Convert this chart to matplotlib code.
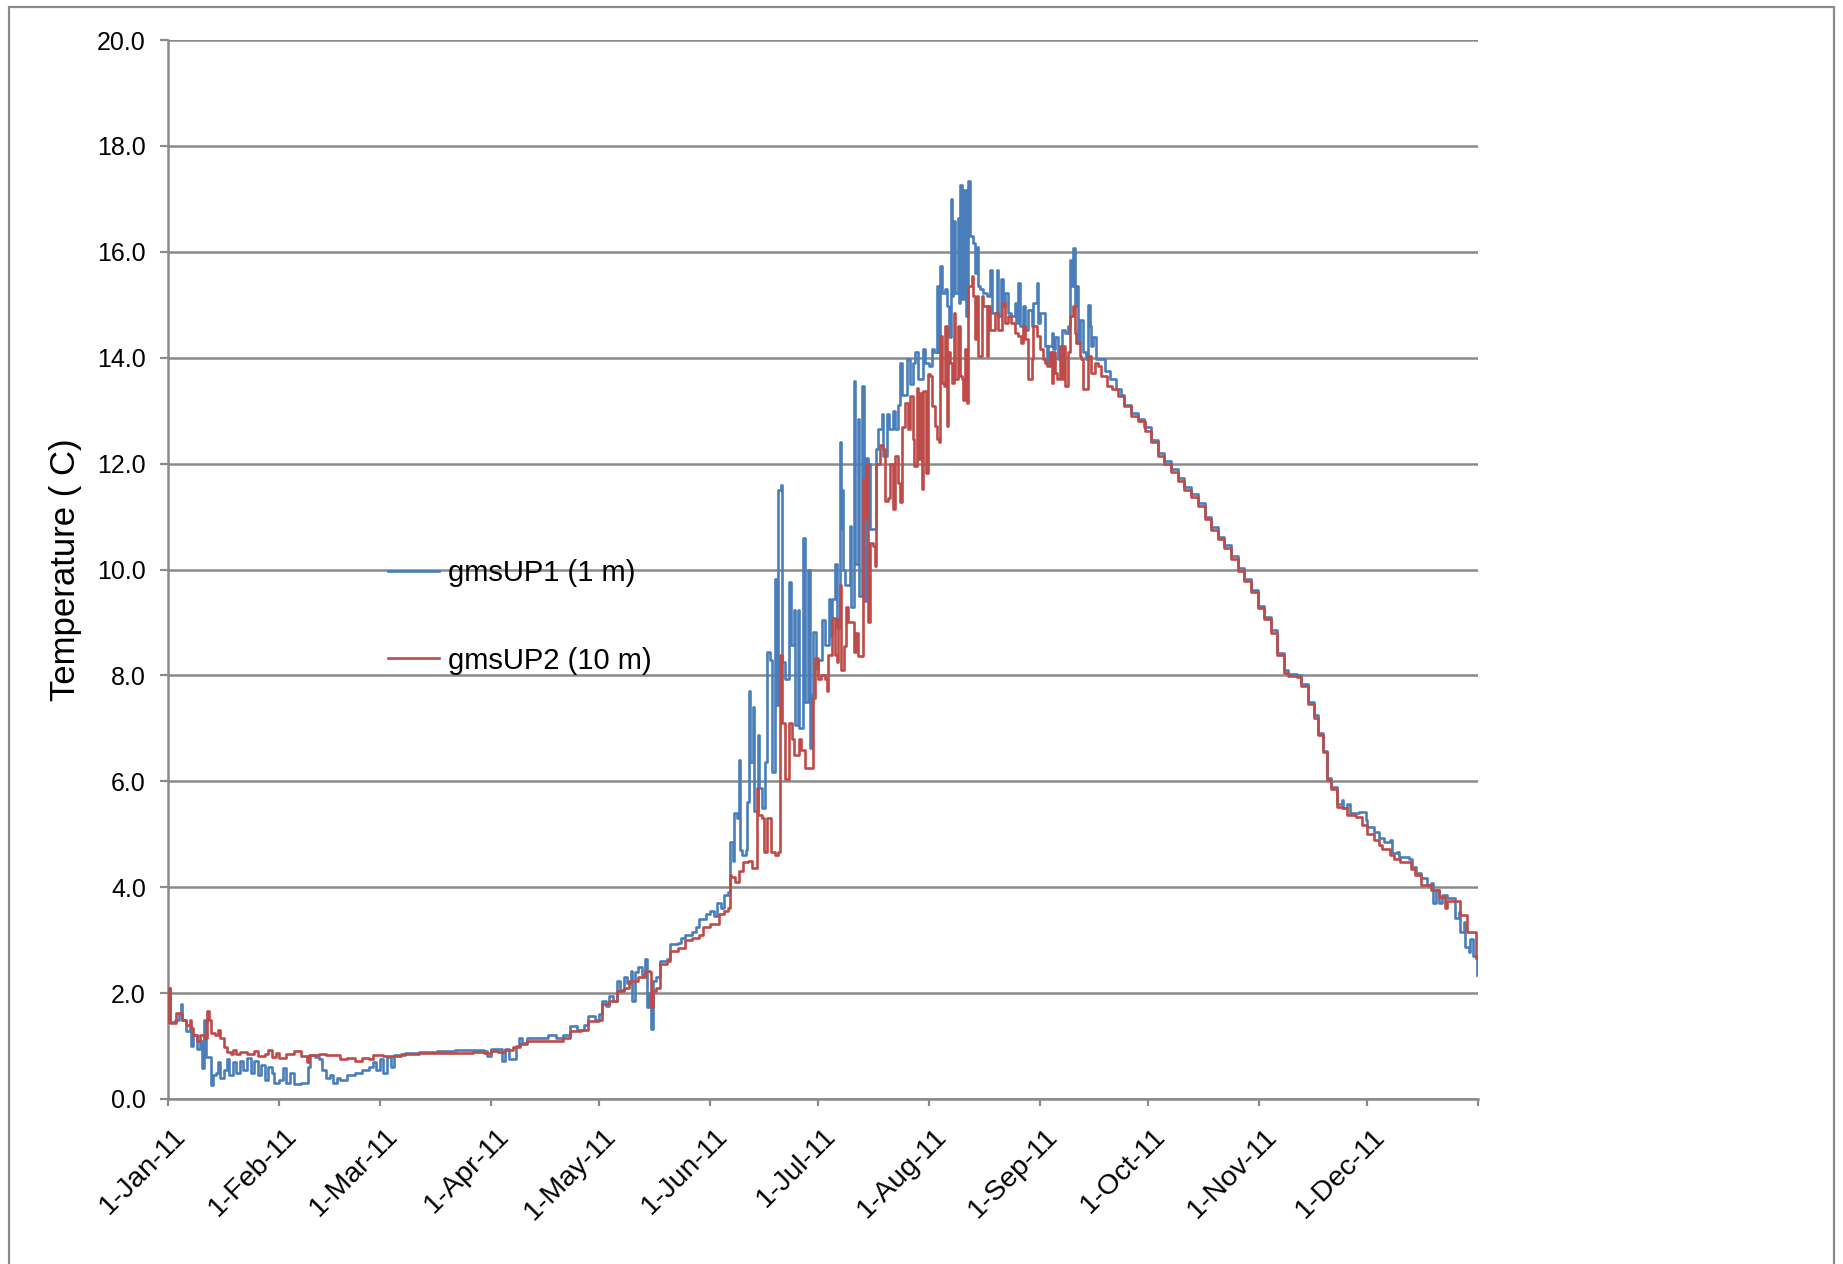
import matplotlib
matplotlib.use("Agg")
import matplotlib.pyplot as plt
from matplotlib.patches import Rectangle
from matplotlib.transforms import ScaledTranslation

# day of year (0 = 1-Jan-11), temperature in C
up1_winter = [
    (0, 1.5), (0.3, 2.1), (0.6, 1.45), (2, 1.5), (3, 1.6), (3.5, 1.8), (4, 1.5), (5, 1.28),
    (6, 1.4), (6.5, 1.0), (7, 1.2), (8, 0.95), (9, 1.1), (9.5, 0.58), (10, 1.5), (10.5, 0.8),
    (11.9, 0.27), (12.5, 0.45), (13.5, 0.5), (14, 0.7), (14.5, 0.4), (15.5, 0.55), (16.5, 0.75),
    (17, 0.45), (18, 0.7), (19, 0.5), (20, 0.72), (21, 0.55), (22, 0.77), (23, 0.5), (24, 0.72),
    (25, 0.45), (26, 0.65), (27, 0.35), (28, 0.6), (29, 0.5), (29.5, 0.3), (31, 0.35), (32, 0.58),
    (33, 0.3), (34, 0.5), (35, 0.28), (37, 0.3), (38.5, 0.3), (39, 0.6), (39.5, 0.84), (41, 0.8),
    (42, 0.75), (43, 0.55), (44, 0.4), (45, 0.45), (46, 0.3), (47, 0.4), (48, 0.35), (50, 0.45),
    (52, 0.5), (54, 0.55), (56, 0.6), (57, 0.7), (58, 0.55), (59, 0.75), (60, 0.5), (61, 0.8),
    (62, 0.6), (63, 0.84), (66, 0.87), (70, 0.88), (75, 0.9), (80, 0.92), (85, 0.92),
]
up1_spring = [
    (88, 0.9), (89, 0.82), (90, 0.95), (93, 0.72), (94, 0.95), (95, 0.75), (97, 1.0), (97.9, 1.16),
    (98.5, 1.05), (100, 1.16), (104, 1.15), (106, 1.2), (108, 1.16), (110, 1.2), (112, 1.38),
    (114, 1.3), (116, 1.4), (117, 1.57), (119, 1.5), (120, 1.6), (121, 1.85), (122, 1.75),
    (123, 1.95), (124, 1.85), (125, 2.23), (126, 2.05), (127, 2.3), (128, 2.2), (129, 2.42),
    (129.4, 1.85), (130, 2.4), (131, 2.5), (132, 2.35), (133, 2.64), (133.5, 1.73), (134, 2.0),
    (134.5, 1.32), (135, 2.23), (136, 2.3), (137, 2.6), (139, 2.65), (140, 2.92), (142, 2.95),
    (143, 3.05), (144, 3.1), (146, 3.15), (147, 3.25), (148, 3.4), (150, 3.5), (151, 3.55),
    (152, 3.45), (153, 3.7), (154, 3.6), (155, 3.85), (156, 3.9),
]
up1_summer = [
    (156.5, 4.2), (156.7, 4.86), (157.3, 4.5), (157.6, 5.4), (158.5, 5.3), (159, 6.4), (159.3, 4.7),
    (160, 4.6), (161, 4.7), (161.3, 5.6), (161.8, 7.7), (162.2, 6.37), (162.9, 7.4), (163.3, 5.43),
    (164.3, 6.87), (164.8, 5.87), (165.5, 5.5), (166.4, 6.37), (166.9, 8.45), (167.8, 8.3),
    (168.2, 6.18), (169.2, 9.83), (169.5, 7.44), (170, 11.5), (170.8, 11.6), (171, 8.26),
    (172, 7.94), (173, 9.77), (173.5, 8.57), (174.3, 9.23), (174.7, 7.06), (175.5, 9.23),
    (175.9, 7.0), (177, 10.6), (177.4, 7.5), (178.3, 9.99), (178.8, 6.62), (179.4, 7.63),
    (179.8, 8.82), (180.5, 8.13), (181.2, 8.3), (182.1, 9.04), (183, 8.57), (184.3, 9.45),
    (184.5, 8.75), (185, 9.44), (185.9, 10.1), (186.5, 8.9), (187.2, 12.4), (187.5, 10.77),
    (187.7, 11.5), (188, 10.0), (188.5, 9.7), (190, 10.83), (190.4, 9.3), (191, 13.56),
    (191.5, 10.1), (192.2, 12.84), (192.6, 9.5), (193.3, 13.46), (193.8, 9.4), (194.5, 12.1),
    (195.1, 12.0), (195.6, 10.76), (197, 10.76), (197.4, 12.27), (197.9, 12.65), (198.8, 12.93),
    (199.3, 12.15), (200.2, 12.93), (201, 12.65), (202, 13.0), (202.5, 12.65), (203.5, 13.1),
    (204, 13.9), (204.5, 13.3), (205.3, 13.3), (206, 13.97), (206.7, 13.5), (207.6, 13.9),
    (208, 14.1), (209, 13.6), (210.3, 14.16), (210.8, 13.9), (211.9, 13.84), (212.8, 14.16),
    (213.5, 14.1), (214.2, 15.35), (214.6, 14.1), (215.2, 15.73), (215.6, 15.22), (216.5, 15.29),
    (217, 14.97), (217.5, 14.4), (218.1, 17.0), (218.4, 15.16), (218.8, 16.58), (219.3, 15.22),
    (220, 16.64), (220.3, 15.03), (220.7, 17.27), (221.2, 15.1), (221.9, 17.17), (222.4, 14.78),
    (223, 17.33), (223.5, 16.3), (224.4, 16.17), (224.9, 15.6), (225.3, 16.1), (225.6, 15.35),
    (226.2, 15.29), (227.1, 15.22), (228.1, 15.16), (229, 15.66), (229.5, 14.85), (230.9, 15.66),
    (231.3, 14.78), (232.1, 15.48), (232.7, 14.97), (233.2, 15.22), (234.1, 14.85), (235, 14.78),
    (236, 15.03), (236.4, 14.66), (236.9, 15.41), (237.4, 14.6), (238.3, 14.97), (238.8, 14.53),
    (239.7, 14.9), (240.6, 14.6), (241, 15.03), (242, 15.41), (242.5, 14.66), (242.9, 14.85),
    (243.9, 14.85), (244.3, 14.22), (244.8, 13.9), (245.2, 14.22), (246.2, 14.47), (246.6, 14.16),
    (247.1, 14.4), (248, 13.97), (249, 14.53), (249.9, 14.47), (250.8, 14.6), (251.3, 15.85),
    (251.7, 15.35), (252.2, 16.07), (252.7, 14.97), (253.1, 15.35), (253.6, 14.28), (254.1, 14.72),
    (255, 14.1), (255.9, 13.97), (256.2, 15.0), (256.8, 14.6), (257.3, 14.22), (257.8, 14.4),
    (258.7, 13.97),
]
up1_autumn = [
    (259.6, 13.97), (261, 13.75), (262.4, 13.6), (264, 13.4), (265.5, 13.3), (266.5, 13.1),
    (268.4, 12.95), (270.2, 12.85), (272, 12.7), (273.9, 12.45), (275.8, 12.2), (277.6, 12.05),
    (279.5, 11.9), (281.3, 11.72), (283.2, 11.56), (285, 11.42), (286.9, 11.26), (288.8, 11.0),
    (290.6, 10.8), (292.5, 10.62), (294.3, 10.46), (296.2, 10.25), (298, 10.02), (299.9, 9.82),
    (301.7, 9.62), (303.6, 9.32), (305.4, 9.1), (307.3, 8.86), (309.1, 8.43), (311, 8.1),
    (312, 8.02), (314.7, 8.0), (315.6, 7.84), (317.5, 7.5), (319.3, 7.25), (320.3, 6.92),
    (321.7, 6.58), (323, 6.07), (324, 5.9), (325.8, 5.58), (327, 5.65), (327.5, 5.5),
    (328.6, 5.58), (329.2, 5.4), (331.8, 5.42), (333.7, 5.27), (334.2, 5.14), (336, 5.05),
    (337.5, 4.92), (338.8, 4.86), (340.6, 4.89), (341.1, 4.64), (342.5, 4.67), (343, 4.57),
    (345.8, 4.54), (346.7, 4.39), (347.6, 4.26), (349, 4.17), (350.8, 4.04), (351.8, 4.07),
    (352.5, 3.7), (353.2, 3.95), (354.1, 3.7), (355, 3.85), (356.4, 3.79), (357.3, 3.79),
    (358.7, 3.41), (359.6, 3.54), (360.1, 3.16), (361, 3.35), (361.5, 2.88), (362.4, 2.78),
    (362.9, 3.03), (363.6, 2.7), (364.6, 2.34),
]

up2_winter = [
    (0, 1.45), (0.3, 2.1), (0.6, 1.44), (2, 1.44), (2.2, 1.63), (3.5, 1.6), (4, 1.5), (5, 1.4),
    (6, 1.5), (6.5, 1.35), (7, 1.2), (8, 1.1), (9, 1.2), (10, 1.15), (11, 1.66), (11.5, 1.5),
    (12, 1.25), (13, 1.2), (14, 1.3), (14.6, 1.15), (15.5, 0.98), (16.5, 0.88), (17.5, 0.85),
    (18, 0.92), (19, 0.85), (20, 0.88), (22, 0.85), (24, 0.9), (25, 0.82), (27, 0.85), (28, 0.92),
    (29, 0.8), (30, 0.87), (31, 0.78), (33, 0.85), (35, 0.9), (37, 0.82), (38.7, 0.7), (39.2, 0.84),
    (42, 0.85), (44, 0.84), (46, 0.84), (48, 0.75), (50, 0.78), (52, 0.72), (54, 0.78), (56, 0.75),
    (57, 0.84), (60, 0.82), (65, 0.85), (70, 0.86), (75, 0.87), (80, 0.87), (85, 0.88),
]
up2_spring = [
    (88, 0.87), (90, 0.9), (92, 0.88), (94, 0.92), (96, 0.98), (98, 1.04), (100, 1.1), (104, 1.1),
    (108, 1.1), (110, 1.15), (112, 1.29), (115, 1.3), (117, 1.48), (120, 1.5), (121, 1.79),
    (123, 1.85), (125, 2.04), (127, 2.1), (128.4, 2.23), (131, 2.3), (133, 2.42), (134.3, 2.4),
    (134.5, 1.73), (135, 2.04), (136, 2.1), (137, 2.55), (139, 2.6), (140, 2.8), (142, 2.85),
    (144, 3.0), (146, 3.05), (148, 3.1), (149, 3.24), (151, 3.3), (153.5, 3.5), (155, 3.55),
    (156, 3.6),
]
up2_summer = [
    (156.5, 4.23), (157, 4.2), (158, 4.1), (159, 4.3), (160.3, 4.48), (161.5, 4.5), (162.7, 4.36),
    (164, 5.87), (164.5, 5.36), (165.5, 5.3), (166, 4.67), (167, 5.3), (168, 4.67), (169, 4.6),
    (170, 4.67), (170.6, 8.38), (171, 7.1), (172, 6.05), (173, 7.1), (174, 6.8), (174.5, 6.5),
    (175.7, 6.8), (176.5, 6.6), (177.5, 6.25), (178.4, 6.25), (179.6, 7.57), (180.3, 8.32),
    (181, 7.94), (182, 8.0), (183, 7.94), (183.5, 7.7), (184, 8.38), (185, 9.08), (185.9, 8.38),
    (186.5, 8.26), (186.8, 9.07), (187.2, 9.7), (187.6, 8.1), (188.4, 8.56), (188.8, 9.3),
    (189.5, 9.0), (190.5, 9.0), (191, 8.44), (191.8, 8.8), (192.3, 8.37), (193.3, 8.37),
    (193.7, 11.7), (194.1, 11.0), (194.6, 12.0), (195, 9.0), (195.6, 10.5), (196.5, 10.45),
    (197, 10.07), (197.4, 12.0), (198.4, 12.36), (199.3, 12.27), (199.8, 11.3), (200.7, 11.35),
    (201.2, 12.0), (202, 11.14), (202.5, 12.15), (203.5, 11.64), (204, 11.27), (204.4, 12.7),
    (205.3, 13.15), (206.2, 12.65), (206.7, 13.28), (207.6, 12.46), (207.9, 11.96), (208.6, 13.43),
    (209, 12.08), (209.6, 13.34), (210, 11.52), (210.4, 13.37), (211.1, 11.83), (211.8, 13.7),
    (212.3, 13.65), (212.8, 13.09), (213.7, 12.71), (214.2, 12.46), (214.7, 12.4), (215.1, 14.41),
    (215.6, 13.53), (216.1, 13.47), (216.5, 14.6), (217, 12.71), (217.4, 14.1), (217.9, 13.9),
    (218.4, 13.53), (219, 14.85), (219.3, 13.6), (220.2, 14.6), (220.7, 13.65), (221.1, 13.6),
    (221.6, 13.21), (222.1, 14.16), (222.5, 13.15), (223, 15.35), (223.9, 15.54), (224.4, 15.16),
    (224.9, 14.35), (225.3, 15.16), (225.8, 14.03), (226.7, 15.16), (227.2, 14.97), (228.1, 14.03),
    (228.6, 14.97), (229, 14.53), (230.4, 14.85), (231.3, 14.53), (232.3, 15.03), (233.2, 14.66),
    (234.1, 14.78), (235, 14.66), (236, 14.47), (236.9, 14.41), (237.8, 14.28), (238.3, 14.6),
    (238.8, 14.35), (239.7, 13.6), (240.6, 13.97), (241, 14.6), (242, 14.41), (242.9, 14.16),
    (243.9, 13.97), (244.3, 13.9), (244.8, 13.84), (245.7, 14.1), (246.2, 13.53), (246.6, 14.1),
    (247.1, 13.72), (247.6, 13.6), (248.5, 14.22), (249, 13.6), (249.4, 14.22), (249.9, 13.47),
    (250.8, 14.1), (251.3, 14.78), (252.2, 14.97), (252.7, 14.47), (253.1, 14.28), (254.1, 14.03),
    (254.5, 13.97), (255, 13.4), (255.9, 13.4), (256.4, 14.03), (257.3, 13.72), (258.2, 13.9),
]
up2_autumn = [
    (259.1, 13.84), (260, 13.65), (261.5, 13.47), (262.9, 13.4), (264.7, 13.28), (266.5, 13.09),
    (268.4, 12.9), (270.2, 12.8), (272.1, 12.62), (273.9, 12.4), (275.8, 12.15), (277.6, 12.0),
    (279.5, 11.85), (281.3, 11.68), (283.2, 11.5), (285, 11.36), (286.9, 11.2), (288.8, 10.95),
    (290.6, 10.75), (292.5, 10.57), (294.3, 10.4), (296.2, 10.2), (298, 9.98), (299.9, 9.78),
    (301.7, 9.58), (303.6, 9.28), (305.4, 9.06), (307.3, 8.8), (309.1, 8.38), (311, 8.05),
    (312, 7.98), (314.7, 7.97), (315.6, 7.8), (317.5, 7.46), (319.3, 7.2), (320.3, 6.88),
    (321.7, 6.55), (323, 6.03), (324, 5.86), (325.8, 5.52), (327, 5.5), (328.6, 5.36),
    (331, 5.33), (332.8, 5.17), (334.2, 5.01), (336, 4.89), (337.5, 4.79), (338.3, 4.73),
    (340.6, 4.6), (341.6, 4.54), (343.4, 4.48), (346.2, 4.35), (347.5, 4.23), (349, 4.04),
    (351.8, 3.95), (354, 3.82), (355.9, 3.6), (356.5, 3.73), (360.1, 3.48), (362, 3.16),
    (363.6, 3.16), (364.5, 2.66),
]

month_starts = [0, 31, 59, 90, 120, 151, 181, 212, 243, 273, 304, 334, 365]
month_labels = ["1-Jan-11", "1-Feb-11", "1-Mar-11", "1-Apr-11", "1-May-11", "1-Jun-11",
                "1-Jul-11", "1-Aug-11", "1-Sep-11", "1-Oct-11", "1-Nov-11", "1-Dec-11", ""]
y_ticks = [0, 2, 4, 6, 8, 10, 12, 14, 16, 18, 20]

series_names = ["gmsUP1 (1 m)", "gmsUP2 (10 m)"]
series_colors = ["#4a7ebb", "#be4b48"]

GREY = "#8a8a8a"
SANS = ["Liberation Sans", "DejaVu Sans"]

fig = plt.figure(figsize=(18.43, 12.64), dpi=100)
ax = fig.add_axes([168 / 1843, 1 - 1099 / 1264, (1478 - 168) / 1843, (1099 - 40) / 1264])

# outer chart frame (open at the bottom edge of the picture)
fig.add_artist(Rectangle((9 / 1843, -0.02), (1834 - 9) / 1843, 1.02 - 7 / 1264,
                         transform=fig.transFigure, fill=False, edgecolor=GREY, lw=1.6))

for pts, name, col in zip([up1_winter + up1_spring + up1_summer + up1_autumn,
                           up2_winter + up2_spring + up2_summer + up2_autumn],
                          series_names, series_colors):
    d = [p[0] for p in pts]
    t = [p[1] for p in pts]
    ax.plot(d, t, color=col, lw=1.9, drawstyle="steps-post", label=name, zorder=3)

ax.set_xlim(0, 365)
ax.set_ylim(0, 20)
ax.set_yticks(y_ticks)
ax.set_yticklabels([f"{v:.1f}" for v in y_ticks], fontfamily=SANS, fontsize=18)
ax.set_xticks(month_starts)
ax.set_xticklabels(month_labels, rotation=45, ha="right", va="center",
                   rotation_mode="anchor", fontfamily=SANS, fontsize=20.5)

ax.yaxis.grid(True, color=GREY, lw=1.8, zorder=1)
ax.set_axisbelow(True)
for side in ["top", "right"]:
    ax.spines[side].set_visible(False)
for side in ["left", "bottom"]:
    ax.spines[side].set_color(GREY)
    ax.spines[side].set_linewidth(1.8)
ax.tick_params(axis="y", direction="out", length=6, width=1.6, color=GREY, pad=10)
ax.tick_params(axis="x", direction="out", length=5, width=1.6, color=GREY, pad=19)

# nudge the slanted date labels to the right of their ticks
offset = ScaledTranslation(0.14, 0, fig.dpi_scale_trans)
for tick in ax.xaxis.get_major_ticks():
    tick.label1.set_transform(tick.label1.get_transform() + offset)

ax.set_ylabel("Temperature ( C)", fontfamily=SANS, fontsize=25)
ax.yaxis.set_label_coords(-0.066, 0.5)

ax.legend(loc="upper left", bbox_to_anchor=(0.168, 0.510), frameon=False,
          prop={"family": SANS, "size": 21},
          handlelength=1.75, handletextpad=0.3, labelspacing=2.05, borderpad=0,
          borderaxespad=0)

fig.savefig("out.png", dpi=100)
